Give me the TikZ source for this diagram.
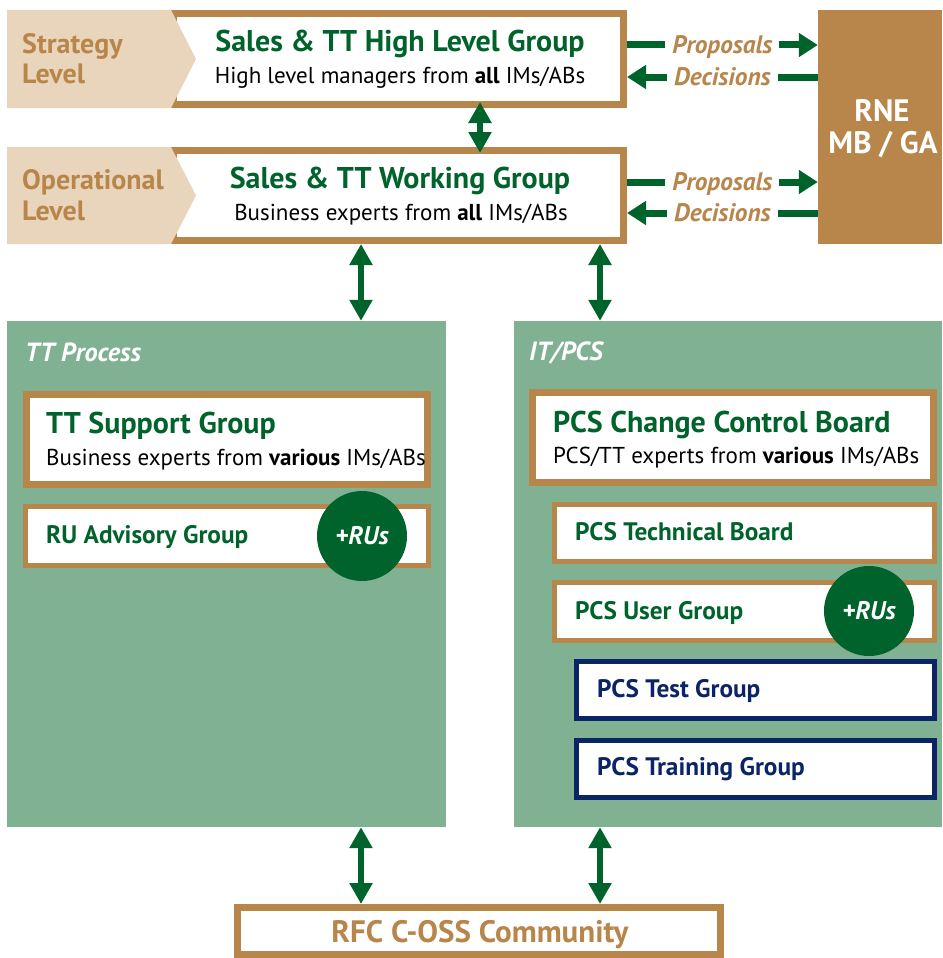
\documentclass[tikz,border=0pt]{standalone}
\usepackage{fontspec}
\setmainfont{PT Sans}
\usetikzlibrary{arrows.meta, positioning}
\definecolor{rnebrown}{HTML}{B8864A}
\definecolor{rnebeige}{HTML}{E8D5BB}
\definecolor{rnegreen}{HTML}{00632C}
\definecolor{panelgreen}{HTML}{80B193}
\definecolor{rnenavy}{HTML}{0B2465}
\tikzstyle{groupbox} = [rectangle, draw=rnebrown, line width=7pt, fill=white, inner sep=0pt]
\tikzstyle{subbox} = [rectangle, draw=rnebrown, line width=5pt, fill=white, inner sep=0pt]
\tikzstyle{navybox} = [rectangle, draw=rnenavy, line width=5pt, fill=white, inner sep=0pt]
\tikzstyle{panel} = [rectangle, fill=panelgreen, inner sep=0pt]
\tikzstyle{title} = [inner sep=0pt, text=rnegreen, font=\fontsize{30}{36}\selectfont\bfseries]
\tikzstyle{subtitle} = [inner sep=0pt, font=\fontsize{23}{28}\selectfont]
\tikzstyle{member} = [inner sep=0pt, text=rnegreen, font=\fontsize{25.3}{30}\selectfont\bfseries]
\tikzstyle{level} = [inner sep=0pt, text=rnebrown, font=\fontsize{28}{33}\selectfont\bfseries]
\tikzstyle{paneltitle} = [inner sep=0pt, text=white, font=\fontsize{26.3}{31}\selectfont\bfseries\itshape]
\tikzstyle{flowlabel} = [fill=white, inner xsep=7pt, inner ysep=2pt, text height=17.5pt, text depth=0pt, text=rnebrown, font=\fontsize{25.3}{30}\selectfont\bfseries\itshape]
\tikzstyle{rus} = [circle, fill=rnegreen, minimum size=90pt, inner sep=0pt, text=white, font=\fontsize{25.5}{30}\selectfont\bfseries\itshape]
\tikzstyle{arrow} = [rnegreen, line width=7pt, -{Triangle[width=23pt,length=19pt]}]
\tikzstyle{dblarrow} = [rnegreen, line width=6pt, {Triangle[width=22pt,length=21pt]}-{Triangle[width=22pt,length=21pt]}]

\begin{document}
\begin{tikzpicture}[x=1pt, y=-1pt]
    \useasboundingbox (0,0) rectangle (942,958);

    % levels
    \node (hlg) [groupbox, minimum width=450pt, minimum height=91pt] at (398.5,59) {};
    \node (wg) [groupbox, minimum width=450pt, minimum height=90pt] at (398.5,195.5) {};
    \fill[rnebeige] (7,10) -- (171,10) -- (196,59) -- (171,108) -- (7,108) -- cycle;
    \fill[rnebeige] (7,147) -- (171,147) -- (196,195.5) -- (171,244) -- (7,244) -- cycle;
    \node (strategy) [level, anchor=base west] at (22,53) {Strategy};
    \node (strategy-2) [level, anchor=base west] at (22,84) {Level};
    \node (operational) [level, anchor=base west] at (22,189) {Operational};
    \node (operational-2) [level, anchor=base west] at (22,220) {Level};
    \node (hlg-title) [title, anchor=base] at (400,52) {Sales \& TT High Level Group};
    \node (hlg-sub) [subtitle, anchor=base] at (400,83) {High level managers from \textbf{all} IMs/ABs};
    \node (wg-title) [title, anchor=base] at (400,188) {Sales \& TT Working Group};
    \node (wg-sub) [subtitle, anchor=base] at (401,220) {Business experts from \textbf{all} IMs/ABs};

    \node (rne) [rectangle, fill=rnebrown, inner sep=0pt, minimum width=124pt, minimum height=234pt] at (880,127) {};
    \node (rne-1) [title, text=white, font=\fontsize{31}{36}\selectfont\bfseries, anchor=base] at (882,121) {RNE};
    \node (rne-2) [title, text=white, font=\fontsize{31}{36}\selectfont\bfseries, anchor=base] at (883,153) {MB / GA};

    \draw [arrow] ([yshift=14pt]hlg.east) -- node[flowlabel] {Proposals} ([yshift=14pt]hlg.east -| rne.west);
    \draw [arrow] ([yshift=-18pt]hlg.east -| rne.west) -- node[flowlabel] {Decisions} ([yshift=-18pt]hlg.east);
    \draw [arrow] ([yshift=13.5pt]wg.east) -- node[flowlabel] {Proposals} ([yshift=13.5pt]wg.east -| rne.west);
    \draw [arrow] ([yshift=-17.5pt]wg.east -| rne.west) -- node[flowlabel] {Decisions} ([yshift=-17.5pt]wg.east);
    \draw [dblarrow] ([xshift=81.5pt, yshift=6pt]hlg.south) -- ([xshift=81.5pt, yshift=-6pt]wg.north);

    % working areas
    \node (ttproc) [panel, minimum width=439pt, minimum height=506pt] at (226.5,574) {};
    \node (itpcs) [panel, minimum width=428pt, minimum height=506pt] at (728,574) {};
    \node (ttproc-title) [paneltitle, anchor=base west] at (25,361) {TT Process};
    \node (itpcs-title) [paneltitle, anchor=base west] at (529,360) {IT/PCS};

    \draw [dblarrow] ([xshift=-37.5pt]wg.south) -- ([xshift=-37.5pt]wg.south |- ttproc.north);
    \draw [dblarrow] ([xshift=201.5pt]wg.south) -- ([xshift=201.5pt]wg.south |- itpcs.north);

    \node (tts) [groupbox, minimum width=401pt, minimum height=90pt] at (227,439.5) {};
    \node (tts-title) [title, anchor=base west] at (46,433) {TT Support Group};
    \node (tts-sub) [subtitle, anchor=base west] at (46,465) {Business experts from \textbf{various} IMs/ABs};
    \node (rua) [subbox, minimum width=403pt, minimum height=59pt] at (227,536) {};
    \node (rua-text) [member, anchor=base west] at (46,543) {RU Advisory Group};
    \node (rua-rus) [rus] at (362,536) {+RUs};

    \node (ccb) [groupbox, minimum width=401pt, minimum height=90pt] at (733,437.5) {};
    \node (ccb-title) [title, anchor=base west] at (553,432) {PCS Change Control Board};
    \node (ccb-sub) [subtitle, anchor=base west] at (553,463) {PCS/TT experts from \textbf{various} IMs/ABs};
    \node (tb) [subbox, minimum width=380pt, minimum height=57pt] at (744.5,533) {};
    \node (tb-text) [member, anchor=base west] at (575,540) {PCS Technical Board};
    \node (ug) [subbox, minimum width=380pt, minimum height=58pt] at (744.5,611) {};
    \node (ug-text) [member, anchor=base west] at (575,619) {PCS User Group};
    \node (ug-rus) [rus] at (869,611) {+RUs};
    \node (tg) [navybox, minimum width=358pt, minimum height=57pt] at (755.5,690) {};
    \node (tg-text) [member, text=rnenavy, anchor=base west] at (597,697) {PCS Test Group};
    \node (trg) [navybox, minimum width=358pt, minimum height=57pt] at (755.5,769) {};
    \node (trg-text) [member, text=rnenavy, anchor=base west] at (597,775) {PCS Training Group};

    % community
    \node (rfc) [groupbox, minimum width=483pt, minimum height=47pt] at (479,931) {};
    \node (rfc-text) [title, font=\fontsize{31}{36}\selectfont\bfseries, text=rnebrown, anchor=base] at (480,942) {RFC C-OSS Community};
    \draw [dblarrow] ([xshift=134.5pt]ttproc.south) -- ([xshift=134.5pt]ttproc.south |- rfc.north);
    \draw [dblarrow] ([xshift=-128pt]itpcs.south) -- ([xshift=-128pt]itpcs.south |- rfc.north);
\end{tikzpicture}
\end{document}
